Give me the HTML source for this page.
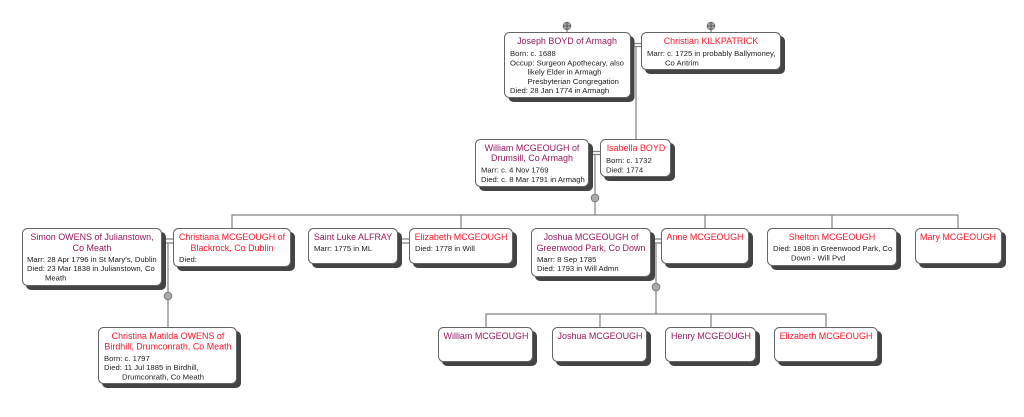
<!DOCTYPE html>
<html><head><meta charset="utf-8"><style>
html,body{margin:0;padding:0;background:#fff}
svg{display:block}
text{font-family:"Liberation Sans",sans-serif}
.n{font-size:8.95px;text-anchor:middle}
.p{fill:#96195f}.r{fill:#f8182c}
.d{font-size:7.7px;fill:#222}
.l{stroke:#808080;stroke-width:1.2;fill:none}
.b{fill:#fff;stroke:#666;stroke-width:1}
.s{fill:#444}
.c{fill:#aaa;stroke:#777;stroke-width:1}
</style></head><body>
<svg width="1024" height="417" viewBox="0 0 1024 417" xmlns="http://www.w3.org/2000/svg">
<path class="l" d="M567 30V33M711 30V33M636 46V139M595 154V215M232 228V215H958V228M461 215V228M705 215V228M832 215V228M168 243V327M656 243V314M486 327V314H826V327M600 314V327M711 314V327"/>
<path class="l" d="M630 43.500H641M630 46.500H641M589 151.500H600M589 154.500H600M162 239H173M162 243H173M398 239H409M398 243H409M651 239H661M651 243H661"/>
<g class="s">
<rect x="508.500" y="36" width="126" height="66" rx="5"/><rect x="645" y="36" width="140" height="38" rx="5"/>
<rect x="479" y="143" width="114" height="48" rx="5"/><rect x="604" y="143" width="71" height="38" rx="5"/>
<rect x="26" y="232" width="140" height="58" rx="5"/><rect x="177" y="232" width="118" height="39" rx="5"/>
<rect x="102" y="331" width="139" height="57" rx="5"/><rect x="312" y="232" width="90" height="36" rx="5"/>
<rect x="413" y="232" width="104" height="36" rx="5"/><rect x="535" y="232" width="120" height="49" rx="5"/>
<rect x="665" y="232" width="88" height="36" rx="5"/><rect x="771" y="232" width="130" height="38" rx="5"/>
<rect x="919" y="232" width="87" height="36" rx="5"/><rect x="442" y="331" width="95" height="35" rx="5"/>
<rect x="556" y="331" width="95" height="35" rx="5"/><rect x="669" y="331" width="91" height="35" rx="5"/>
<rect x="778" y="331" width="104" height="35" rx="5"/>
</g>
<g class="b">
<rect x="504.500" y="32.500" width="126" height="65" rx="5"/><rect x="641.500" y="32.500" width="139" height="37" rx="5"/>
<rect x="475.500" y="139.500" width="113" height="47" rx="5"/><rect x="600.500" y="139.500" width="70" height="37" rx="5"/>
<rect x="22.500" y="228.500" width="139" height="57" rx="5"/><rect x="173.500" y="228.500" width="117" height="38" rx="5"/>
<rect x="98.500" y="327.500" width="138" height="56" rx="5"/><rect x="308.500" y="228.500" width="89" height="35" rx="5"/>
<rect x="409.500" y="228.500" width="103" height="35" rx="5"/><rect x="531.500" y="228.500" width="119" height="48" rx="5"/>
<rect x="661.500" y="228.500" width="87" height="35" rx="5"/><rect x="767.500" y="228.500" width="129" height="37" rx="5"/>
<rect x="915.500" y="228.500" width="86" height="35" rx="5"/><rect x="438.500" y="327.500" width="94" height="34" rx="5"/>
<rect x="552.500" y="327.500" width="94" height="34" rx="5"/><rect x="665.500" y="327.500" width="90" height="34" rx="5"/>
<rect x="774.500" y="327.500" width="103" height="34" rx="5"/>
</g>
<circle class="c" cx="595" cy="198" r="3.800"/><circle class="c" cx="168" cy="296" r="3.800"/><circle class="c" cx="656" cy="287" r="3.800"/>
<circle class="c" cx="567" cy="26" r="3.800"/><circle class="c" cx="711" cy="26" r="3.800"/>
<path stroke="#444" stroke-width=".8" fill="none" d="M563 26H571M567 22V30M707 26H715M711 22V30"/>

<text class="n p" x="567" y="44">Joseph BOYD of Armagh</text>
<text class="d" x="510" y="56">Born: c. 1688</text>
<text class="d" x="510" y="65.500">Occup: Surgeon Apothecary, also</text>
<text class="d" x="527.500" y="74.500">likely Elder in Armagh</text>
<text class="d" x="527.500" y="84">Presbyterian Congregation</text>
<text class="d" x="510" y="93">Died: 28 Jan 1774 in Armagh</text>

<text class="n r" x="711" y="44">Christian KILKPATRICK</text>
<text class="d" x="647" y="56">Marr: c. 1725 in probably Ballymoney,</text>
<text class="d" x="665" y="65.500">Co Antrim</text>

<text class="n p" x="532" y="151">William MCGEOUGH of</text>
<text class="n p" x="532" y="161">Drumsill, Co Armagh</text>
<text class="d" x="481" y="172.500">Marr: c. 4 Nov 1769</text>
<text class="d" x="481" y="182">Died: c. 8 Mar 1791 in Armagh</text>

<text class="n r" x="636" y="151">Isabella BOYD</text>
<text class="d" x="606" y="163">Born: c. 1732</text>
<text class="d" x="606" y="172.500">Died: 1774</text>

<text class="n p" x="92" y="240">Simon OWENS of Julianstown,</text>
<text class="n p" x="92" y="251">Co Meath</text>
<text class="d" x="27" y="262">Marr: 28 Apr 1796 in St Mary's, Dublin</text>
<text class="d" x="27" y="271">Died: 23 Mar 1838 in Julianstown, Co</text>
<text class="d" x="45" y="280.500">Meath</text>

<text class="n r" x="232" y="240">Christiana MCGEOUGH of</text>
<text class="n r" x="232" y="251">Blackrock, Co Dublin</text>
<text class="d" x="179" y="262">Died:</text>

<text class="n r" x="168" y="339">Christina Matilda OWENS of</text>
<text class="n r" x="168" y="349.500">Birdhill, Drumconrath, Co Meath</text>
<text class="d" x="104" y="361">Born: c. 1797</text>
<text class="d" x="104" y="370">Died: 11 Jul 1885 in Birdhill,</text>
<text class="d" x="122" y="379.500">Drumconrath, Co Meath</text>

<text class="n p" x="353" y="240">Saint Luke ALFRAY</text>
<text class="d" x="314" y="251">Marr: 1775 in ML</text>

<text class="n r" x="461" y="240">Elizabeth MCGEOUGH</text>
<text class="d" x="415" y="251">Died: 1778 in Will</text>

<text class="n p" x="591" y="240">Joshua MCGEOUGH of</text>
<text class="n p" x="591" y="251">Greenwood Park, Co Down</text>
<text class="d" x="537" y="262">Marr: 8 Sep 1785</text>
<text class="d" x="537" y="271">Died: 1793 in Will Admn</text>

<text class="n r" x="705" y="240">Anne MCGEOUGH</text>

<text class="n r" x="832" y="240">Shelton MCGEOUGH</text>
<text class="d" x="773" y="251">Died: 1808 in Greenwood Park, Co</text>
<text class="d" x="791" y="260.500">Down - Will Pvd</text>

<text class="n r" x="958" y="240">Mary MCGEOUGH</text>

<text class="n p" x="486" y="339">William MCGEOUGH</text>
<text class="n p" x="600" y="339">Joshua MCGEOUGH</text>
<text class="n p" x="711" y="339">Henry MCGEOUGH</text>
<text class="n r" x="826" y="339">Elizabeth MCGEOUGH</text>
</svg>
</body></html>
